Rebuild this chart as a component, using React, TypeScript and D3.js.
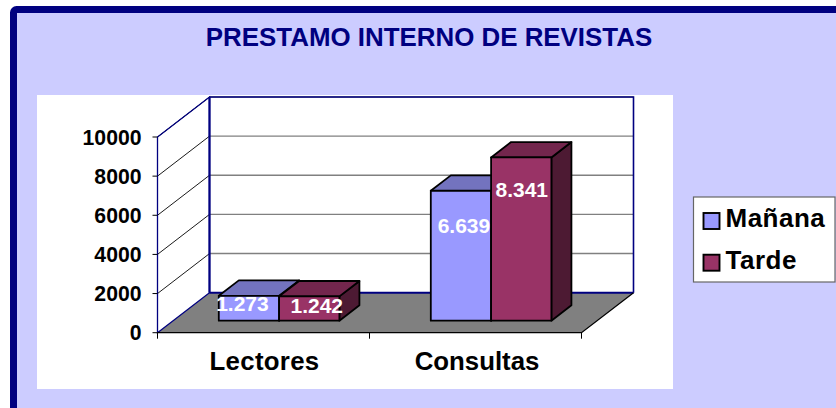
import React from "react";
import * as d3 from "d3";

const title = "PRESTAMO INTERNO DE REVISTAS";
const categories = ["Lectores", "Consultas"];
const seriesNames = ["Mañana", "Tarde"];
const manana = [1273, 6639];
const tarde = [1242, 8341];
const yTicks = [0, 2000, 4000, 6000, 8000, 10000];
const labelTexts = [["1.273", "6.639"], ["1.242", "8.341"]];

const W = 836, H = 408;
const FONT = "'Liberation Sans', Arial, sans-serif";
const NAVY = "#000080";
const fills = [
  { front: "#9999FF", top: "#7373BF", side: "#4D4D80" },
  { front: "#993366", top: "#73264D", side: "#4D1A33" },
];

// plot geometry: front-left axis plus the oblique depth vector
const x0 = 157.5, x1 = 581.5, yBase = 332.7, yTop = 137;
const depthX = 52, depthY = -40;
const x = d3.scaleBand<string>().domain(categories).range([x0, x1]);
const y = d3.scaleLinear().domain([0, 10000]).range([yBase, yTop]);
const p = (px: number, py: number, z = 0): [number, number] => [px + depthX * z, py + depthY * z];
const poly = (pts: [number, number][]) => d3.line()(pts)! + "Z";

const barWidth = 60.3, barZ0 = 0.3, barZ1 = 0.685;
const labelOffset = [[[-6.5, 15.5], [3, 42]], [[7.5, 16.5], [0.5, 39.5]]];

export default function App() {
  const series = [manana, tarde];
  return (
    <svg width={W} height={H} style={{ position: "absolute", left: 0, top: 0, display: "block" }} fontFamily={FONT}>
      <rect width={W} height={H} fill="#fff" />
      <rect x={13.5} y={9.5} width={W + 20} height={H + 20} rx={3} fill="#CCCCFF" stroke={NAVY} strokeWidth={7} />
      <rect x={37} y={95} width={636} height={294} fill="#fff" />
      <text x={429} y={45.5} textAnchor="middle" fontSize={25.9} fontWeight="bold" fill={NAVY}>{title}</text>

      {/* floor */}
      <path d={poly([p(x0, yBase), p(x1, yBase), p(x1, yBase, 1), p(x0, yBase, 1)])} fill="#808080" />
      {/* back wall gridlines */}
      {yTicks.slice(1, 5).concat(10000).map((t) => (
        <line key={t} x1={p(x0, y(t), 1)[0]} x2={p(x1, y(t), 1)[0]} y1={p(x0, y(t), 1)[1]} y2={p(x1, y(t), 1)[1]} stroke="#808080" strokeWidth={1.4} />
      ))}
      {/* side wall gridlines */}
      {yTicks.slice(1, 5).concat(10000).map((t) => (
        <line key={t} x1={x0} y1={y(t)} x2={p(x0, y(t), 1)[0]} y2={p(x0, y(t), 1)[1]} stroke="#000" strokeWidth={0.9} />
      ))}
      {/* wall outlines */}
      <path d={d3.line()([p(x1, yBase, 1), p(x1, y(10000), 1), p(x0, y(10000), 1)])!} fill="none" stroke={NAVY} strokeWidth={1.6} />
      <line x1={p(x0, yBase, 1)[0]} y1={p(x0, yBase, 1)[1]} x2={p(x0, y(10000), 1)[0]} y2={p(x0, y(10000), 1)[1]} stroke={NAVY} strokeWidth={2.2} />
      <line x1={p(x0, yBase, 1)[0]} y1={p(x0, yBase, 1)[1]} x2={p(x1, yBase, 1)[0]} y2={p(x1, yBase, 1)[1]} stroke={NAVY} strokeWidth={2} />
      <path d={poly([p(x0, yBase), p(x0, yBase, 1), p(x0, y(10000), 1), p(x0, y(10000))])} fill="none" stroke={NAVY} strokeWidth={1.3} />
      {/* floor front and right edges */}
      <path d={d3.line()([p(x0, yBase), p(x1, yBase), p(x1, yBase, 1)])!} fill="none" stroke="#000" strokeWidth={1.3} />

      {/* ticks */}
      {yTicks.map((t) => (
        <g key={t}>
          <line x1={x0 - 5} x2={x0} y1={y(t)} y2={y(t)} stroke="#000" strokeWidth={1} />
          <text x={x0 - 16} y={y(t) + 7.5} textAnchor="end" fontSize={21.2} fontWeight="bold" fill="#000">{t}</text>
        </g>
      ))}
      {[x0, x0 + x.bandwidth(), x1].map((v) => (
        <line key={v} x1={v} x2={v} y1={yBase} y2={yBase + 6} stroke="#000" strokeWidth={1} />
      ))}
      {categories.map((c, i) => (
        <text key={c} x={x(c)! + x.bandwidth() / 2 + (i === 0 ? 1 : 1.5)} y={369.5} textAnchor="middle" fontSize={25.8} letterSpacing={i === 0 ? 0.3 : 0} fontWeight="bold" fill="#000">{c}</text>
      ))}

      {/* bars, drawn back-to-front by series */}
      {categories.map((c, ci) => {
        const cx = x(c)! + x.bandwidth() / 2 + depthX * barZ0;
        return series.map((vals, si) => {
          const left = cx + (si - 1) * barWidth;
          const right = left + barWidth;
          const by = y(0) + depthY * barZ0, ty = y(vals[ci]) + depthY * barZ0;
          const dz = barZ1 - barZ0;
          const col = fills[si];
          const sw = { stroke: "#000", strokeWidth: 1.8, strokeLinejoin: "round" as const };
          return (
            <g key={c + si}>
              <path d={poly([[right, by], p(right, by, dz), p(right, ty, dz), [right, ty]])} fill={col.side} {...sw} />
              <path d={poly([[left, ty], [right, ty], p(right, ty, dz), p(left, ty, dz)])} fill={col.top} {...sw} />
              <rect x={left} y={ty} width={barWidth} height={by - ty} fill={col.front} {...sw} />
            </g>
          );
        });
      })}
      {categories.map((c, ci) => {
        const cx = x(c)! + x.bandwidth() / 2 + depthX * barZ0;
        return series.map((vals, si) => {
          const mid = cx + (si - 0.5) * barWidth;
          const ty = y(vals[ci]) + depthY * barZ0;
          const [dx, dy] = labelOffset[si][ci];
          return (
            <text key={c + si} x={mid + dx} y={ty + dy} textAnchor="middle" fontSize={21} fontWeight="bold" fill="#fff">{labelTexts[si][ci]}</text>
          );
        });
      })}

      {/* legend */}
      <rect x={693.5} y={197} width={141.5} height={85} fill="#fff" stroke="#666" strokeWidth={1.2} />
      {seriesNames.map((n, i) => (
        <g key={n}>
          <rect x={703.5} y={213 + i * 41.7} width={16} height={16} fill={fills[i].front} stroke="#000" strokeWidth={1.9} />
          <text x={725.5} y={227 + i * 41.7} fontSize={26} letterSpacing={0.5} fontWeight="bold" fill="#000">{n}</text>
        </g>
      ))}
    </svg>
  );
}
